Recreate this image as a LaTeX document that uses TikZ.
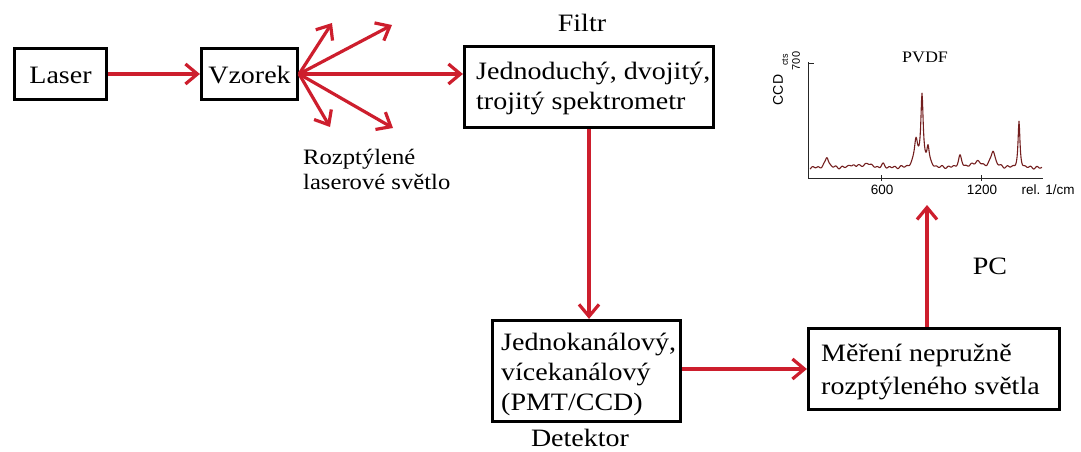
\documentclass[tikz,border=0pt]{standalone}
\usepackage{fontspec}
\setmainfont{Liberation Serif}[FakeStretch=1.12]
\setsansfont{Liberation Sans}
\usetikzlibrary{arrows.meta}
\definecolor{arrred}{RGB}{205,30,45}
\definecolor{specred}{RGB}{115,30,30}
\tikzset{
  box/.style={draw=black, line width=3.2pt, inner sep=0pt},
  txt/.style={font=\fontsize{25}{30}\selectfont, inner sep=0pt, align=left},
  lbl/.style={font=\fontsize{25}{30}\selectfont, inner sep=0pt},
  arr/.style={draw=arrred, line width=3.2pt, -{Straight Barb[length=12pt,width=20pt]}},
  axis/.style={draw=black!85, line width=1pt},
  small/.style={font=\sffamily\fontsize{13.5}{15}\selectfont, inner sep=0pt},
  declare function={L(\t,\a,\b,\c)=\b/(1+(min(abs(\t-\a),60)/\c)^2);}
}
\begin{document}
\begin{tikzpicture}[x=1pt,y=-1pt]
\useasboundingbox (0,0) rectangle (1081,452);
% boxes
\node[box, minimum width=92pt, minimum height=51pt] (laser) at (60.5,74) {};
\node[lbl] (lasertxt) at (60.5,75) {Laser};
\node[box, minimum width=96pt, minimum height=51pt] (vzorek) at (249.5,74) {};
\node[lbl] (vzorektxt) at (249.5,75) {Vzorek};
\node[box, minimum width=249pt, minimum height=81pt] (filtr) at (589,87) {};
\node[txt, anchor=west] (filtrtxt) at (476,89) {Jednoduchý, dvojitý,\\trojitý spektrometr};
\node[lbl] (filtrlbl) at (582,23) {Filtr};
\node[box, minimum width=188pt, minimum height=101pt] (det) at (586.5,371) {};
\node[txt, anchor=west] (dettxt) at (501,374) {Jednokanálový,\\vícekanálový\\(PMT/CCD)};
\node[lbl] (detlbl) at (580,438) {Detektor};
\node[box, minimum width=251pt, minimum height=81pt] (mer) at (934,369) {};
\node[txt, anchor=west] (mertxt) at (821,372) {Měření nepružně\\[3pt]rozptýleného světla};
\node[lbl] (pc) at (990,266) {PC};
\node[font=\fontsize{22}{25}\selectfont, inner sep=0pt, align=left, anchor=west] (scat) at (303,169) {Rozptýlené\\laserové světlo};
% scatter end points
\coordinate (s1) at (332,23);
\coordinate (s2) at (392,25);
\coordinate (s3) at (330,127);
\coordinate (s4) at (393,128);
\coordinate (spec) at (927,205);
% arrows
\draw[arr] (laser.east) -- (vzorek.west);
\draw[arr] (vzorek.east) -- (filtr.west |- vzorek.east);
\draw[arr] (vzorek.east) -- (s1);
\draw[arr] (vzorek.east) -- (s2);
\draw[arr] (vzorek.east) -- (s3);
\draw[arr] (vzorek.east) -- (s4);
\draw[arr] (filtr.south) -- (filtr.south |- det.north);
\draw[arr] (det.east |- mer.west) -- (mer.west);
\draw[arr] (spec |- mer.north) -- (spec);
% spectrum
\coordinate (orig) at (808.5,178);
\draw[axis] (808.5,62) -- (orig) -- (1043,178);
\draw[axis] (808.5,64) -- (814,64);
\draw[axis] (881,175) -- (881,181);
\draw[axis] (981,175) -- (981,181);
\node[font=\fontsize{16}{18}\selectfont, inner sep=0pt] (pvdf) at (925,57) {PVDF};
\node[small] (t600) at (882,190) {600};
\node[small] (t1200) at (982,190) {1200};
\node[small] (trel) at (1048,190) {rel. 1/cm};
\node[font=\sffamily\fontsize{14}{15}\selectfont, inner sep=0pt, rotate=90] (ccd) at (778,90) {CCD};
\node[font=\sffamily\fontsize{9}{10}\selectfont, inner sep=0pt, rotate=90] (cts) at (785,60) {cts};
\node[font=\sffamily\fontsize{11}{12}\selectfont, inner sep=0pt, rotate=90] (v700) at (796,61) {700};
\begin{scope}[shift={(808,0)}]
\draw[specred, line width=1.1pt, line join=round]
  plot[domain=2:234, samples=465] (\x, {168 + 0.9*sin(\x*61) + 0.6*sin(\x*37+20)
   - L(\x,19,11,2) - L(\x,42,3,2) - L(\x,50,3,2) - L(\x,60,5,3) - L(\x,75,3,2)
   - L(\x,108,28,2) - L(\x,114,71,1.4) - L(\x,120,20,1.5)
   - L(\x,152,11,2) - L(\x,169,6,5) - L(\x,185,17,2.5) - L(\x,211,45,1.1)});
\end{scope}
\end{tikzpicture}
\end{document}
